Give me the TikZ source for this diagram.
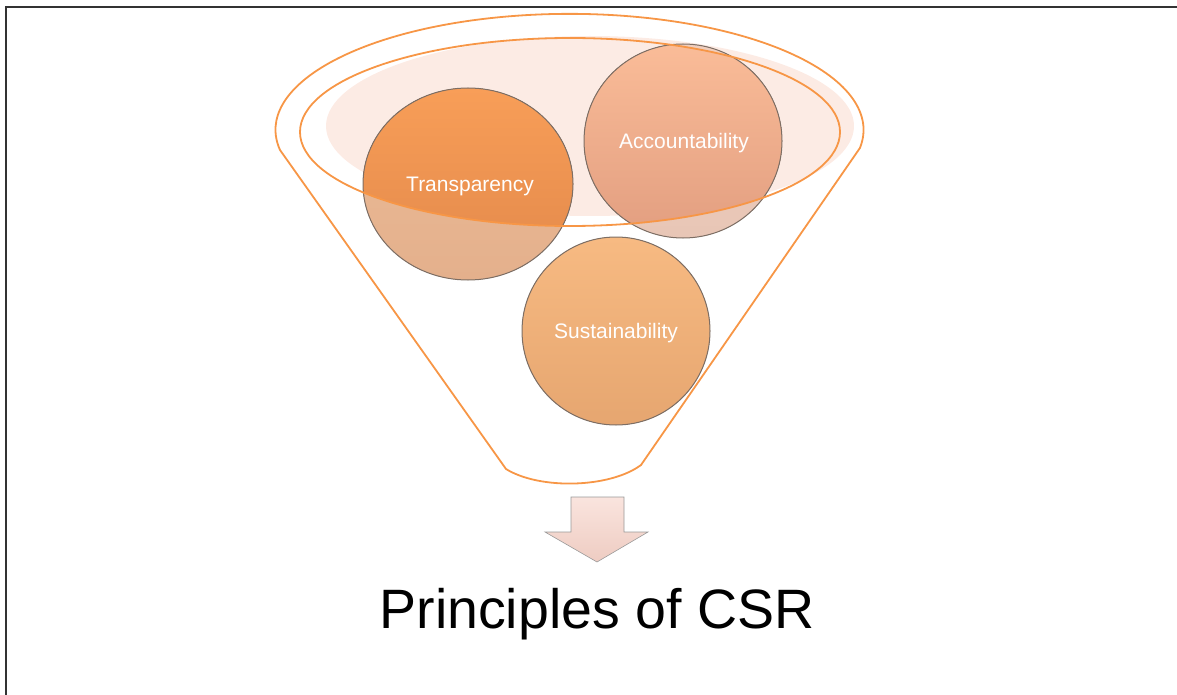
\documentclass[tikz,border=0pt]{standalone}
\usepackage{fontspec}
\setmainfont{Liberation Sans}
\usetikzlibrary{arrows.meta}

\definecolor{csrorange}{RGB}{247,150,70}
\definecolor{haze}{RGB}{252,235,228}
\definecolor{rim}{RGB}{125,110,100}

\begin{document}
\begin{tikzpicture}[x=1pt,y=-1pt,
    funnel/.style={draw=csrorange,line width=1.8pt},
    rimline/.style={draw=rim,line width=1pt},
    label/.style={text=white,anchor=base,font=\fontsize{21}{24}\selectfont}]
  \useasboundingbox (0,0) rectangle (1177,695);
  \draw [line width=1.6pt,black!80] (6,695) -- (6,7) -- (1177,7);

  % haze inside the mouth of the funnel
  \fill [haze] (590,126) ellipse [x radius=264, y radius=90];

  % the three balls, pale part
  \fill [top color={rgb,255:red,236;green,188;blue,152},
         bottom color={rgb,255:red,228;green,176;blue,140}]
        (468,184) ellipse [x radius=105, y radius=96];
  \fill [top color={rgb,255:red,240;green,206;blue,190},
         bottom color={rgb,255:red,232;green,198;blue,182}]
        (683,141) ellipse [x radius=99, y radius=97];
  \fill [top color={rgb,255:red,247;green,186;blue,130},
         bottom color={rgb,255:red,230;green,166;blue,112}]
        (616,331) ellipse [x radius=94, y radius=94];

  % vivid part inside the mouth
  \begin{scope}
    \clip (570,132) ellipse [x radius=270, y radius=94];
    \fill [top color={rgb,255:red,248;green,158;blue,88},
           bottom color={rgb,255:red,226;green,136;blue,74}]
          (468,184) ellipse [x radius=105, y radius=96];
    \fill [top color={rgb,255:red,250;green,188;blue,152},
           bottom color={rgb,255:red,226;green,158;blue,128}]
          (683,141) ellipse [x radius=99, y radius=97];
  \end{scope}

  \draw [rimline] (468,184) ellipse [x radius=105, y radius=96];
  \draw [rimline] (683,141) ellipse [x radius=99, y radius=97];
  \draw [rimline] (616,331) ellipse [x radius=94, y radius=94];

  \node [label] (transp) at (470,191) {Transparency};
  \node [label] (account) at (684,149) {Accountability};
  \node [label] (sustain) at (616,338) {Sustainability};

  % funnel
  \draw [funnel] (570,132) ellipse [x radius=270, y radius=94];
  \draw [funnel] (280,150) arc [start angle=170, end angle=369, x radius=294, y radius=116]
    -- (641,465) .. controls (610,488) and (540,490) .. (506,469) -- cycle;

  % block arrow
  \draw [draw=black!40,line width=0.6pt,
         top color={rgb,255:red,250;green,228;blue,222},
         bottom color={rgb,255:red,238;green,204;blue,194}]
    (571,497) -- (624,497) -- (624,532) -- (648,532) -- (597,562)
    -- (545,532) -- (571,532) -- cycle;

  \node [anchor=base,font=\fontsize{55.5}{60}\selectfont] (title) at (597,628) {Principles of CSR};
\end{tikzpicture}
\end{document}
